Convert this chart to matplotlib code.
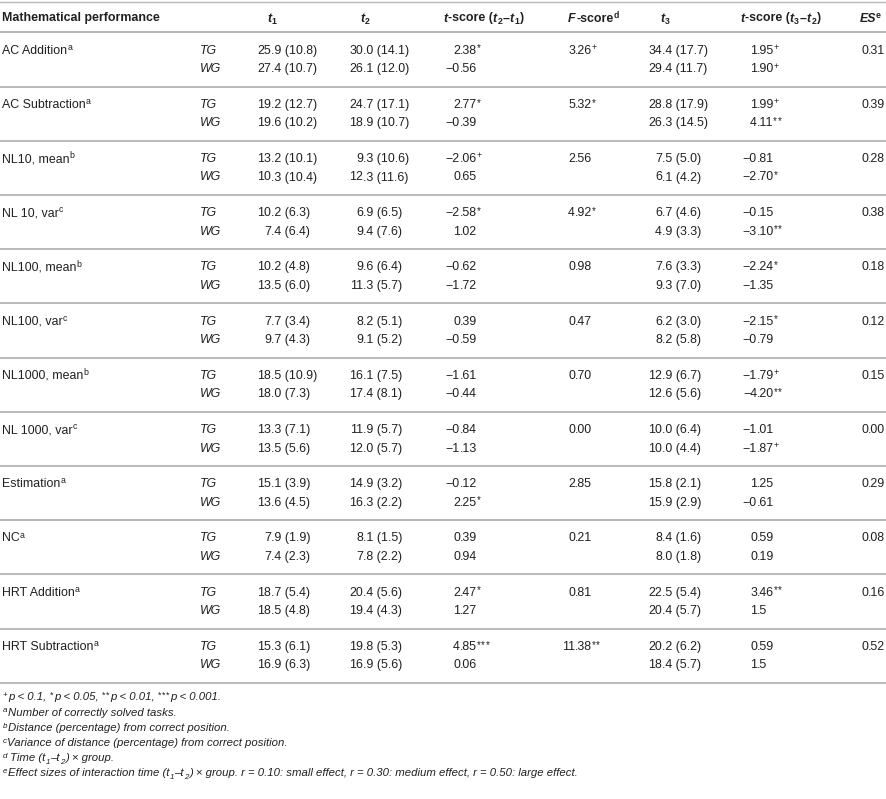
import matplotlib.pyplot as plt

plt.rcParams['font.family'] = ['Liberation Sans', 'DejaVu Sans']

# table content
measures = ["AC Addition", "AC Subtraction", "NL10, mean", "NL 10, var",
            "NL100, mean", "NL100, var", "NL1000, mean", "NL 1000, var",
            "Estimation", "NC", "HRT Addition", "HRT Subtraction"]
notes = ["a", "a", "b", "c", "b", "c", "b", "c", "a", "a", "a", "a"]
groups = ["TG", "WG"]

t1_tg = ["25.9 (10.8)", "19.2 (12.7)", "13.2 (10.1)", "10.2 (6.3)", "10.2 (4.8)", "7.7 (3.4)",
         "18.5 (10.9)", "13.3 (7.1)", "15.1 (3.9)", "7.9 (1.9)", "18.7 (5.4)", "15.3 (6.1)"]
t1_wg = ["27.4 (10.7)", "19.6 (10.2)", "10.3 (10.4)", "7.4 (6.4)", "13.5 (6.0)", "9.7 (4.3)",
         "18.0 (7.3)", "13.5 (5.6)", "13.6 (4.5)", "7.4 (2.3)", "18.5 (4.8)", "16.9 (6.3)"]
t2_tg = ["30.0 (14.1)", "24.7 (17.1)", "9.3 (10.6)", "6.9 (6.5)", "9.6 (6.4)", "8.2 (5.1)",
         "16.1 (7.5)", "11.9 (5.7)", "14.9 (3.2)", "8.1 (1.5)", "20.4 (5.6)", "19.8 (5.3)"]
t2_wg = ["26.1 (12.0)", "18.9 (10.7)", "12.3 (11.6)", "9.4 (7.6)", "11.3 (5.7)", "9.1 (5.2)",
         "17.4 (8.1)", "12.0 (5.7)", "16.3 (2.2)", "7.8 (2.2)", "19.4 (4.3)", "16.9 (5.6)"]
ts21_tg = ["2.38*", "2.77*", "\u22122.06+", "\u22122.58*", "\u22120.62", "0.39",
           "\u22121.61", "\u22120.84", "\u22120.12", "0.39", "2.47*", "4.85***"]
ts21_wg = ["\u22120.56", "\u22120.39", "0.65", "1.02", "\u22121.72", "\u22120.59",
           "\u22120.44", "\u22121.13", "2.25*", "0.94", "1.27", "0.06"]
f_score = ["3.26+", "5.32*", "2.56", "4.92*", "0.98", "0.47",
           "0.70", "0.00", "2.85", "0.21", "0.81", "11.38**"]
t3_tg = ["34.4 (17.7)", "28.8 (17.9)", "7.5 (5.0)", "6.7 (4.6)", "7.6 (3.3)", "6.2 (3.0)",
         "12.9 (6.7)", "10.0 (6.4)", "15.8 (2.1)", "8.4 (1.6)", "22.5 (5.4)", "20.2 (6.2)"]
t3_wg = ["29.4 (11.7)", "26.3 (14.5)", "6.1 (4.2)", "4.9 (3.3)", "9.3 (7.0)", "8.2 (5.8)",
         "12.6 (5.6)", "10.0 (4.4)", "15.9 (2.9)", "8.0 (1.8)", "20.4 (5.7)", "18.4 (5.7)"]
ts32_tg = ["1.95+", "1.99+", "\u22120.81", "\u22120.15", "\u22122.24*", "\u22122.15*",
           "\u22121.79+", "\u22121.01", "1.25", "0.59", "3.46**", "0.59"]
ts32_wg = ["1.90+", "4.11**", "\u22122.70*", "\u22123.10**", "\u22121.35", "\u22120.79",
           "\u22124.20**", "\u22121.87+", "\u22120.61", "0.19", "1.5", "1.5"]
es = ["0.31", "0.39", "0.28", "0.38", "0.18", "0.12",
      "0.15", "0.00", "0.29", "0.08", "0.16", "0.52"]

footnotes = [
    ("a", "Number of correctly solved tasks."),
    ("b", "Distance (percentage) from correct position."),
    ("c", "Variance of distance (percentage) from correct position."),
]

INK = "#231f20"
RULE = "#b9b9b9"
FS = 8.9
SMALL = 6.3
NOTE_FS = 8.2

fig = plt.figure(figsize=(8.87, 7.99), dpi=100)
ax = fig.add_axes([0, 0, 1, 1])
ax.set_xlim(0, 887)
ax.set_ylim(799, 0)
ax.axis("off")
renderer = fig.canvas.get_renderer()


def width(t):
    return t.get_window_extent(renderer).width


def run(x, y, pieces):
    # place text pieces one after another on a common baseline
    for s, opt in pieces:
        size = opt.get("size", FS)
        sp = 0.278 * size * 100 / 72
        lead = len(s) - len(s.lstrip(" "))
        trail = len(s) - len(s.rstrip(" "))
        core = s.strip(" ")
        x += lead * sp
        if core:
            t = ax.text(x, y + opt.get("dy", 0), core, ha="left", va="baseline",
                        fontsize=size, fontstyle=opt.get("style", "normal"),
                        fontweight=opt.get("weight", "normal"), color=INK)
            x += width(t) + opt.get("gap", 0.3)
        x += trail * sp
    return x


def mark_pieces(mark, size=7.0, dy=-2.2, plus_dy=-3.6, gap=0.7):
    # superscript significance marks, one glyph at a time
    if "+" in mark:
        return [("+", {"size": SMALL, "dy": plus_dy, "gap": 0})]
    return [("*", {"size": size, "dy": dy, "gap": gap})] * len(mark)


def cell(x_dot, y, value):
    core = value.rstrip("*+")
    mark = value[len(core):]
    head, _, tail = core.partition(".")
    ax.text(x_dot, y, head, ha="right", va="baseline", fontsize=FS, color=INK)
    t = ax.text(x_dot + 0.3, y, "." + tail, ha="left", va="baseline", fontsize=FS, color=INK)
    if mark:
        run(x_dot + width(t) - 0.5, y, mark_pieces(mark))


# rules
HEADER_LINE = 32.3
GROUP_H = 54.2
ax.axhline(2.2, color=RULE, lw=1.0)
ax.axhline(HEADER_LINE, color=RULE, lw=1.4)

# header
bold = {"weight": "bold"}
bfit = {"weight": "bold", "style": "italic", "gap": 0.6}
paren = {"weight": "bold", "gap": 0.0}
sub = {"weight": "bold", "size": SMALL, "dy": 2.8, "gap": 0.6}
sup = {"weight": "bold", "size": SMALL, "dy": -3.8, "gap": 0.2}
hy = 21.5
run(2, hy, [("Mathematical performance", bold)])
run(267, hy, [("t", bfit), ("1", sub)])
run(360, hy, [("t", bfit), ("2", sub)])
run(443, hy, [("t", bfit), ("-score (", paren), ("t", bfit), ("2", sub), ("\u2013", bold),
              ("t", bfit), ("1", sub), (")", bold)])
run(568, hy, [("F", bfit), ("-score", {"weight": "bold", "gap": 0.3}), ("d", sup)])
run(660, hy, [("t", bfit), ("3", sub)])
run(740, hy, [("t", bfit), ("-score (", paren), ("t", bfit), ("3", sub), ("\u2013", bold),
              ("t", bfit), ("2", sub), (")", bold)])
run(860, hy, [("ES", {"weight": "bold", "style": "italic", "gap": -0.5}), ("e", sup)])

# body
for k, name in enumerate(measures):
    top = HEADER_LINE + GROUP_H * k
    y_tg = top + 16.8 + 4.5
    y_wg = top + 35.3 + 4.5
    run(2, y_tg, [(name, {"gap": 0.2}), (notes[k], {"size": SMALL, "dy": -3.8})])
    for g, y in zip(groups, (y_tg, y_wg)):
        ax.text(200, y, g, ha="left", va="baseline", fontsize=FS, fontstyle="italic", color=INK)
    cell(271, y_tg, t1_tg[k])
    cell(271, y_wg, t1_wg[k])
    cell(363, y_tg, t2_tg[k])
    cell(363, y_wg, t2_wg[k])
    cell(460, y_tg, ts21_tg[k])
    cell(460, y_wg, ts21_wg[k])
    cell(575, y_tg, f_score[k])
    cell(662, y_tg, t3_tg[k])
    cell(662, y_wg, t3_wg[k])
    cell(757, y_tg, ts32_tg[k])
    cell(757, y_wg, ts32_wg[k])
    cell(868, y_tg, es[k])
    ax.axhline(top + GROUP_H, color=RULE, lw=1.4)

# footnotes
it = {"style": "italic", "size": NOTE_FS, "gap": 0.2}
it_sup = {"style": "italic", "size": 5.8, "dy": -3.4, "gap": 0.5}
it_sub = {"style": "italic", "size": 5.8, "dy": 2.4, "gap": 0.4}
fy = 700.5
fstep = 15.2


def stars(n):
    return mark_pieces("*" * n, size=6.4, dy=-2.6, gap=0.6)


run(3, fy, [("+", {"size": 5.8, "dy": -3.2, "gap": 0.5}), ("p < 0.1, ", it)]
    + stars(1) + [("p < 0.05, ", it)]
    + stars(2) + [("p < 0.01, ", it)]
    + stars(3) + [("p < 0.001.", it)])
for i, (letter, text) in enumerate(footnotes):
    run(3, fy + fstep * (i + 1), [(letter, it_sup), (text, it)])
run(3, fy + fstep * 4, [("d", dict(it_sup, gap=2.5)), ("Time (t", it), ("1", it_sub), ("\u2013t", it),
                        ("2", it_sub), (") \u00d7 group.", it)])
run(3, fy + fstep * 5, [("e", it_sup), ("Effect sizes of interaction time (t", it), ("1", it_sub),
                        ("\u2013t", it), ("2", it_sub),
                        (") \u00d7 group. r = 0.10: small effect, r = 0.30: medium effect, "
                         "r = 0.50: large effect.", it)])

fig.savefig("out.png", dpi=100)
